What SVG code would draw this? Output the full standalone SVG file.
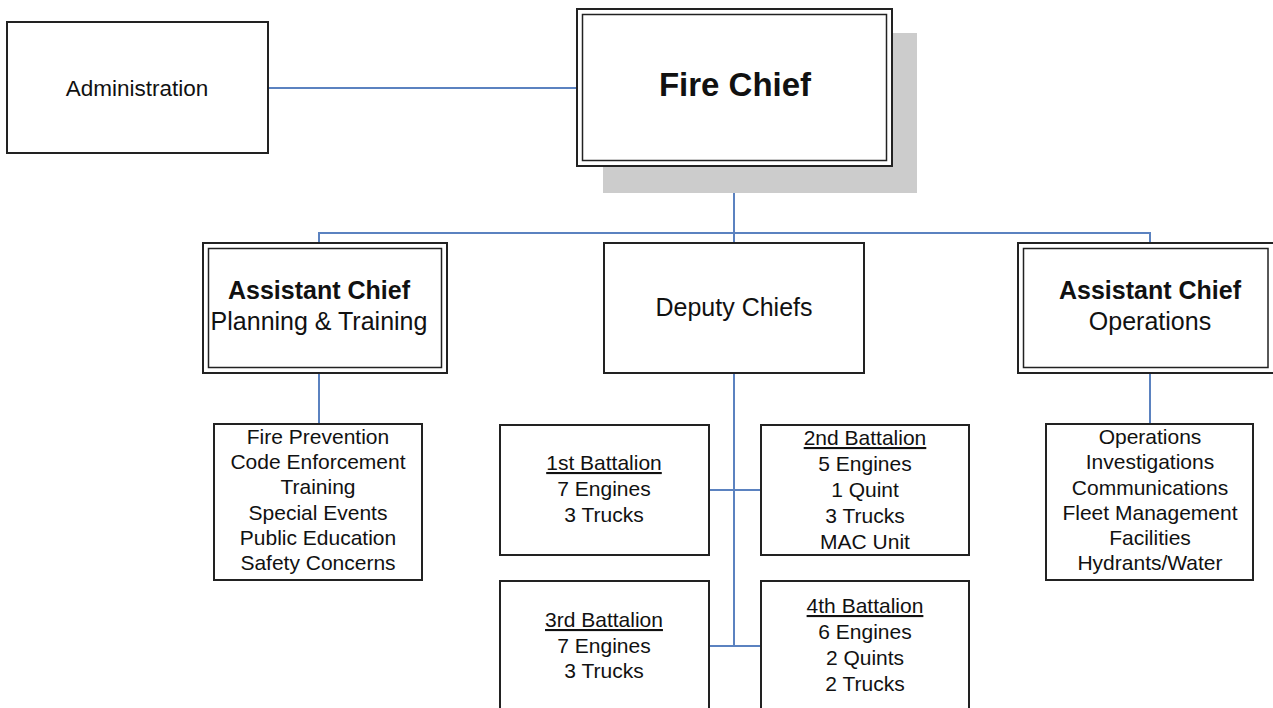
<svg xmlns="http://www.w3.org/2000/svg" width="1273" height="708" viewBox="0 0 1273 708">
<style>
.box{fill:#fff;stroke:#222;stroke-width:2}
.inner{fill:none;stroke:#222;stroke-width:1.5}
.conn{fill:none;stroke:#5b82c0;stroke-width:2}
text{font-family:"Liberation Sans",Arial,sans-serif;fill:#111;text-anchor:middle}
.b{font-weight:bold}
.t25{font-size:25px}
.t21{font-size:21px}
.u{text-decoration:underline}
</style>
<rect width="1273" height="708" fill="#fff"/>
<g id="connectors">
<line class="conn" x1="268" y1="88" x2="578" y2="88"/>
<line class="conn" x1="734" y1="166" x2="734" y2="233"/>
<polyline class="conn" points="319,243 319,233 1150,233 1150,243"/>
<line class="conn" x1="734" y1="233" x2="734" y2="243"/>
<line class="conn" x1="319" y1="373" x2="319" y2="424"/>
<line class="conn" x1="1150" y1="373" x2="1150" y2="424"/>
<line class="conn" x1="734" y1="373" x2="734" y2="646"/>
<line class="conn" x1="709" y1="490" x2="761" y2="490"/>
<line class="conn" x1="709" y1="646" x2="761" y2="646"/>
</g>
<g id="administration">
<rect class="box" x="7" y="22" width="261" height="131"/>
<text x="137" y="96" font-size="22.5">Administration</text>
</g>
<g id="fire-chief">
<rect x="603" y="33" width="314" height="160" fill="#cccccc"/>
<rect class="box" x="577" y="9" width="315" height="157"/>
<rect class="inner" x="582.5" y="14.5" width="304" height="146"/>
<text class="b" x="735" y="96" font-size="33">Fire Chief</text>
</g>
<g id="asst-chief-planning">
<rect class="box" x="203" y="243" width="244" height="130"/>
<rect class="inner" x="208.5" y="248.5" width="233" height="119"/>
<text class="t25 b" x="319" y="299">Assistant Chief</text>
<text class="t25" x="319" y="330">Planning &amp; Training</text>
</g>
<g id="deputy-chiefs">
<rect class="box" x="604" y="243" width="260" height="130"/>
<text class="t25" x="734" y="316">Deputy Chiefs</text>
</g>
<g id="asst-chief-operations">
<rect class="box" x="1018" y="243" width="262" height="130"/>
<rect class="inner" x="1023.5" y="248.5" width="244.5" height="119"/>
<text class="t25 b" x="1150" y="299">Assistant Chief</text>
<text class="t25" x="1150" y="330">Operations</text>
</g>
<g id="planning-list">
<rect class="box" x="214" y="424" width="208" height="156"/>
<text class="t21" x="318" y="444">Fire Prevention</text>
<text class="t21" x="318" y="469">Code Enforcement</text>
<text class="t21" x="318" y="494">Training</text>
<text class="t21" x="318" y="520">Special Events</text>
<text class="t21" x="318" y="545">Public Education</text>
<text class="t21" x="318" y="570">Safety Concerns</text>
</g>
<g id="operations-list">
<rect class="box" x="1046" y="424" width="207" height="156"/>
<text class="t21" x="1150" y="444">Operations</text>
<text class="t21" x="1150" y="469">Investigations</text>
<text class="t21" x="1150" y="495">Communications</text>
<text class="t21" x="1150" y="520">Fleet Management</text>
<text class="t21" x="1150" y="545">Facilities</text>
<text class="t21" x="1150" y="570">Hydrants/Water</text>
</g>
<g id="battalion-1">
<rect class="box" x="500" y="425" width="209" height="130"/>
<text class="t21 u" x="604" y="470">1st Battalion</text>
<text class="t21" x="604" y="496">7 Engines</text>
<text class="t21" x="604" y="522">3 Trucks</text>
</g>
<g id="battalion-2">
<rect class="box" x="761" y="425" width="208" height="130"/>
<text class="t21 u" x="865" y="445">2nd Battalion</text>
<text class="t21" x="865" y="471">5 Engines</text>
<text class="t21" x="865" y="497">1 Quint</text>
<text class="t21" x="865" y="523">3 Trucks</text>
<text class="t21" x="865" y="549">MAC Unit</text>
</g>
<g id="battalion-3">
<rect class="box" x="500" y="581" width="209" height="140"/>
<text class="t21 u" x="604" y="627">3rd Battalion</text>
<text class="t21" x="604" y="653">7 Engines</text>
<text class="t21" x="604" y="678">3 Trucks</text>
</g>
<g id="battalion-4">
<rect class="box" x="761" y="581" width="208" height="140"/>
<text class="t21 u" x="865" y="613">4th Battalion</text>
<text class="t21" x="865" y="639">6 Engines</text>
<text class="t21" x="865" y="665">2 Quints</text>
<text class="t21" x="865" y="691">2 Trucks</text>
</g>
</svg>
